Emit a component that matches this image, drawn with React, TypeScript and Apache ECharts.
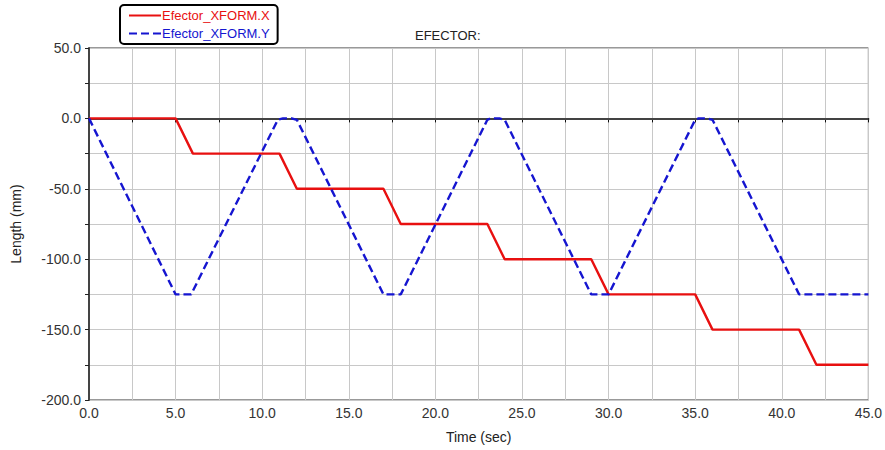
import React, { useEffect, useRef } from "react";
import * as echarts from "echarts";

const seriesXName = "Efector_XFORM.X";
const seriesYName = "Efector_XFORM.Y";
const titleText = "EFECTOR:";
const xAxisName = "Time (sec)";
const yAxisName = "Length (mm)";

const xTimes = [0, 5, 6, 11, 12, 17, 18, 23, 24, 29, 30, 35, 36, 41, 42, 45];
const xValues = [0, 0, -25, -25, -50, -50, -75, -75, -100, -100, -125, -125, -150, -150, -175, -175];

const yTimes = [0, 5, 5.9, 10.9, 11.2, 11.7, 12, 17, 18, 23, 23.2, 23.7, 24, 29, 30, 35, 35.2, 35.7, 36, 41, 45];
const yValues = [0, -125, -125, -1, 0, 0, -1, -125, -125, -1, 0, 0, -1, -125, -125, -1, 0, 0, -1, -125, -125];

const pairs = (t: number[], v: number[]) => t.map((x, i) => [x, v[i]]);

export default function App() {
  const ref = useRef<HTMLDivElement>(null);
  useEffect(() => {
    const chart = echarts.init(ref.current!, undefined, { renderer: "svg" });
    const font = "Arial, 'Liberation Sans', sans-serif";
    chart.setOption({
      animation: false,
      backgroundColor: "#ffffff",
      textStyle: { fontFamily: font },
      title: {
        text: titleText,
        left: 415,
        top: 29,
        padding: 0,
        textStyle: { fontSize: 13, fontWeight: "normal", color: "#222", fontFamily: font },
      },
      legend: {
        orient: "vertical",
        left: 120,
        top: 5,
        padding: [4, 8, 4, 8],
        itemGap: 5,
        itemWidth: 32,
        itemHeight: 14,
        borderColor: "#000",
        borderWidth: 2,
        borderRadius: 4,
        backgroundColor: "#fff",
        itemStyle: { opacity: 0 },
        textStyle: { fontSize: 13, fontFamily: font, padding: [0, 0, 0, -4] },
        data: [
          { name: seriesXName, textStyle: { color: "#e81010" } },
          { name: seriesYName, textStyle: { color: "#1515d0" } },
        ],
      },
      grid: {
        left: 89,
        right: 16,
        top: 48,
        bottom: 50,
        show: true,
        borderColor: "#333",
        borderWidth: 1,
      },
      xAxis: {
        type: "value",
        min: 0,
        max: 45,
        interval: 2.5,
        name: xAxisName,
        nameLocation: "middle",
        nameGap: 30,
        nameTextStyle: { fontSize: 14, color: "#222", fontFamily: font },
        axisLine: { show: true, lineStyle: { color: "#111", width: 2 } },
        axisTick: { show: true, length: 4, lineStyle: { color: "#111" } },
        axisLabel: {
          fontSize: 14,
          color: "#333",
          margin: 6,
          formatter: (v: number) => (Math.abs(v % 5) < 1e-9 ? v.toFixed(1) : ""),
        },
        splitLine: { show: true, lineStyle: { color: "#c8c8c8", width: 1 } },
      },
      yAxis: {
        type: "value",
        min: -200,
        max: 50,
        interval: 25,
        name: yAxisName,
        nameLocation: "middle",
        nameGap: 66,
        nameTextStyle: { fontSize: 14, color: "#222", fontFamily: font },
        axisLine: { show: true, lineStyle: { color: "#444", width: 2 } },
        axisTick: { show: true, length: 4, lineStyle: { color: "#222" } },
        axisLabel: {
          fontSize: 14,
          color: "#333",
          margin: 8,
          formatter: (v: number) => (Math.abs(v % 50) < 1e-9 ? v.toFixed(1) : ""),
        },
        splitLine: { show: true, lineStyle: { color: "#c8c8c8", width: 1 } },
      },
      series: [
        {
          name: seriesXName,
          type: "line",
          data: pairs(xTimes, xValues),
          symbol: "none",
          z: 3,
          lineStyle: { color: "#e81010", width: 2.4 },
          itemStyle: { color: "#e81010" },
          markLine: {
            silent: true,
            symbol: "none",
            label: { show: false },
            lineStyle: { color: "#555", width: 1.5, type: "solid" },
            data: [{ yAxis: 0 }],
            z: 1,
          },
        },
        {
          name: seriesYName,
          type: "line",
          data: pairs(yTimes, yValues),
          symbol: "none",
          z: 4,
          lineStyle: { color: "#1515d0", width: 2.4, type: [8, 4] },
          itemStyle: { color: "#1515d0" },
        },
      ],
    });
    return () => chart.dispose();
  }, []);
  return (
    <div
      ref={ref}
      style={{ position: "absolute", left: 0, top: 0, width: 885, height: 450 }}
    />
  );
}
